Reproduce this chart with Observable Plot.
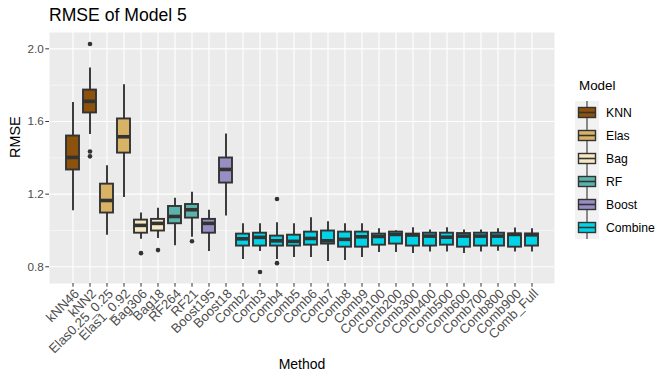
<!DOCTYPE html>
<html><head><meta charset="utf-8">
<script src="https://cdn.jsdelivr.net/npm/d3@7"></script>
<script src="https://cdn.jsdelivr.net/npm/@observablehq/plot@0.6"></script>
<style>
body{margin:0;background:#fff;font-family:"Liberation Sans",Arial,sans-serif;}
#wrap{position:relative;width:666px;height:384px;overflow:hidden;}
#title{position:absolute;left:49px;top:5px;font-size:17.6px;color:#000;line-height:20px;}
#chart{position:absolute;left:0;top:28px;}
#legend{position:absolute;left:570px;top:74px;}
g[aria-label="y-axis tick label"], g[aria-label="x-axis tick label"]{fill:#4d4d4d;}
g[aria-label="x-axis tick label"]{font-size:13.2px;}
g[aria-label="y-axis tick"], g[aria-label="x-axis tick"]{stroke:#333333;}
</style></head><body>
<div id="wrap"><div id="title">RMSE of Model 5</div><div id="chart"></div><div id="legend"></div></div>
<script>
const methods = ["kNN46","kNN2","Elas0.25_0.25","Elas1_0.92","Bag306","Bag18","RF264","RF21","Boost195","Boost18",
  "Comb2","Comb3","Comb4","Comb5","Comb6","Comb7","Comb8","Comb9","Comb100","Comb200","Comb300","Comb400",
  "Comb500","Comb600","Comb700","Comb800","Comb900","Comb_Full"];
const methodModel = ["KNN","KNN","Elas","Elas","Bag","Bag","RF","RF","Boost","Boost",
  "Combine","Combine","Combine","Combine","Combine","Combine","Combine","Combine","Combine","Combine","Combine","Combine",
  "Combine","Combine","Combine","Combine","Combine","Combine"];
const whiskerLow = [1.109,1.529,0.973,1.182,0.951,0.956,0.916,0.962,0.884,1.079,
  0.840,0.884,0.840,0.851,0.851,0.829,0.835,0.851,0.879,0.879,0.873,0.881,0.881,0.873,0.881,0.886,0.881,0.881];
const q1 = [1.333,1.647,1.096,1.426,0.985,0.997,1.037,1.068,0.985,1.261,
  0.914,0.914,0.914,0.914,0.919,0.925,0.908,0.908,0.919,0.925,0.914,0.914,0.919,0.908,0.914,0.914,0.908,0.914];
const medians = [1.402,1.711,1.165,1.516,1.028,1.039,1.077,1.114,1.039,1.336,
  0.954,0.962,0.943,0.940,0.956,0.943,0.951,0.965,0.967,0.978,0.975,0.969,0.963,0.969,0.969,0.969,0.978,0.976];
const q3 = [1.520,1.773,1.255,1.614,1.057,1.061,1.132,1.143,1.061,1.399,
  0.980,0.985,0.969,0.974,0.991,0.997,0.991,0.991,0.980,0.991,0.980,0.985,0.985,0.983,0.985,0.985,0.981,0.981];
const whiskerHigh = [1.705,1.895,1.356,1.803,1.096,1.123,1.178,1.211,1.112,1.531,
  1.037,1.037,1.042,1.037,1.070,1.048,1.037,1.037,1.009,0.998,1.015,1.002,1.015,1.002,1.002,1.009,1.013,1.009];
const outlierMethods = ["kNN2","kNN2","kNN2","Bag306","Bag18","RF21","Comb3","Comb4","Comb4"];
const outlierValues = [2.027,1.435,1.408,0.875,0.892,0.941,0.771,1.173,0.820];
const modelNames = ["KNN","Elas","Bag","RF","Boost","Combine"];
const modelColors = ["#8c510a","#d8b365","#f6e8c3","#5ab4ac","#998ec3","#00d4e6"];
const yTicks = [0.8,1.2,1.6,2.0];
const yMinorTicks = [1.0,1.4,1.8];
const xTitle = "Method", yTitle = "RMSE", legendTitle = "Model";

const rows = methods.map((m,i)=>({method:m, model:methodModel[i], lo:whiskerLow[i], q1:q1[i], med:medians[i], q3:q3[i], hi:whiskerHigh[i]}));
const outliers = outlierMethods.map((m,i)=>({method:m, value:outlierValues[i]}));

const chart = Plot.plot({
  width: 666, height: 356,
  marginLeft: 49, marginRight: 112, marginTop: 4, marginBottom: 101,
  style: {fontFamily: "'Liberation Sans', Arial, sans-serif", fontSize: "11.7px", background: "transparent", color: "#333333"},
  x: {type: "band", domain: methods, paddingInner: 0.25, paddingOuter: 0.225, align: 0.5},
  y: {domain: [0.708, 2.090]},
  color: {domain: modelNames, range: modelColors},
  marks: [
    Plot.frame({fill: "#ebebeb", stroke: null}),
    Plot.ruleY(yMinorTicks, {stroke: "#fff", strokeWidth: 0.53}),
    Plot.ruleY(yTicks, {stroke: "#fff", strokeWidth: 1.07}),
    Plot.ruleX(methods, {x: d => d, stroke: "#fff", strokeWidth: 1.07}),
    Plot.ruleX(rows, {x: "method", y1: "lo", y2: "q1", stroke: "#333333", strokeWidth: 1.9}),
    Plot.ruleX(rows, {x: "method", y1: "q3", y2: "hi", stroke: "#333333", strokeWidth: 1.9}),
    Plot.barY(rows, {x: "method", y1: "q1", y2: "q3", fill: "model", stroke: "#333333", strokeWidth: 1.9}),
    Plot.tickY(rows, {x: "method", y: "med", stroke: "#333333", strokeWidth: 3.6}),
    Plot.dot(outliers, {x: "method", y: "value", r: 2.3, fill: "#333333", stroke: null}),
    Plot.axisY({ticks: yTicks, tickFormat: d => d.toFixed(1), tickSize: 3.7, tickPadding: 2, label: null}),
    Plot.axisX({tickSize: 3.7, tickFormat: () => "", label: null}),
    Plot.axisX({tickSize: 0, tickRotate: -45, tickPadding: 8, dx: 4, label: null}),
    Plot.text([yTitle], {text: d => d, frameAnchor: "left", rotate: -90, dx: -34, fontSize: 14.4, fill: "#000"}),
    Plot.text([xTitle], {text: d => d, frameAnchor: "bottom", dy: 85, fontSize: 14, fill: "#000"})
  ]
});
document.getElementById("chart").appendChild(chart);

// legend
const keyW = 24, keyH = 23;
const lg = d3.select("#legend").append("svg").attr("width", 96).attr("height", 170)
  .style("font-family", "'Liberation Sans', Arial, sans-serif");
lg.append("text").attr("x", 9).attr("y", 16).attr("font-size", "13.4px").attr("fill", "#000").text(legendTitle);
const items = lg.selectAll("g.k").data(modelNames).join("g").attr("transform", (d,i)=>`translate(5,${27 + i*keyH})`);
items.append("rect").attr("width", keyW).attr("height", keyH).attr("fill", "#f2f2f2");
items.append("line").attr("x1", keyW/2).attr("x2", keyW/2).attr("y1", 0).attr("y2", keyH).attr("stroke", "#333").attr("stroke-width", 1.1);
items.append("rect").attr("x", 3.5).attr("y", keyH/2-5).attr("width", keyW-7).attr("height", 10)
  .attr("fill", (d,i)=>modelColors[i]).attr("stroke", "#333").attr("stroke-width", 1.4);
items.append("line").attr("x1", 3.5).attr("x2", keyW-3.5).attr("y1", keyH/2).attr("y2", keyH/2).attr("stroke", "#333").attr("stroke-width", 1.6);
items.append("text").attr("x", keyW + 7).attr("y", keyH/2).attr("dy", "0.35em").attr("font-size", "12.2px").attr("fill", "#000").text(d=>d);
</script>
</body></html>
